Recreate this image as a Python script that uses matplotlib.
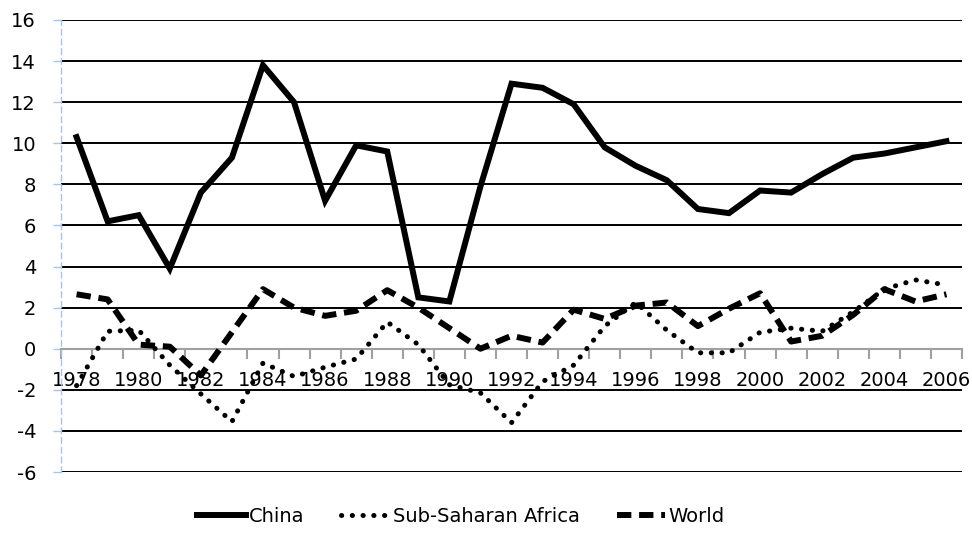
import numpy as np
import matplotlib
matplotlib.use("Agg")
import matplotlib.pyplot as plt

# data (annual growth, %)
years = list(range(1978, 2007))
china = [10.3, 6.2, 6.5, 3.9, 7.6, 9.3, 13.8, 12.0, 7.2, 9.9,
         9.6, 2.5, 2.3, 7.9, 12.9, 12.7, 11.9, 9.8, 8.9, 8.2,
         6.8, 6.6, 7.7, 7.6, 8.5, 9.3, 9.5, 9.8, 10.1]
ssa = [-1.8, 0.85, 0.9, -0.8, -2.2, -3.55, -0.7, -1.35, -0.9, -0.5,
       1.3, 0.2, -1.75, -2.15, -3.6, -1.6, -0.8, 1.1, 2.25, 0.9,
       -0.2, -0.2, 0.8, 1.0, 0.85, 1.8, 2.9, 3.35, 3.1]
world = [2.65, 2.4, 0.2, 0.1, -1.3, 0.8, 2.9, 2.0, 1.6, 1.85,
         2.85, 2.0, 1.0, 0.0, 0.63, 0.3, 1.9, 1.45, 2.1, 2.25,
         1.1, 1.95, 2.7, 0.35, 0.63, 1.65, 2.9, 2.3, 2.65]
y_ticks = list(range(-6, 17, 2))

plt.rcParams["font.family"] = ["DejaVu Sans"]
plt.rcParams["axes.unicode_minus"] = False

fig = plt.figure(figsize=(9.72, 5.39), dpi=100)
ax = fig.add_axes([0.0628, 0.1243, 0.9269, 0.8386])

x = np.arange(len(years))

# horizontal gridlines (0 is the grey category axis)
for v in y_ticks:
    if v != 0:
        ax.axhline(v, color="black", lw=1.4, zorder=1)

ax.plot(x, china, color="black", lw=4.3, solid_joinstyle="miter",
        label="China", zorder=3)
ax.plot(x, ssa, color="black", lw=3.6, linestyle=(0, (0.05, 2.1)),
        dash_capstyle="round", label="Sub-Saharan Africa", zorder=3)
ax.plot(x, world, color="black", lw=4.3, linestyle=(0, (2.4, 1.3)),
        label="World", zorder=3)

ax.set_xlim(-0.5, len(years) - 0.5)
ax.set_ylim(-6, 16)

# y axis: light blue dashed
for s in ["top", "right"]:
    ax.spines[s].set_visible(False)
ax.spines["left"].set_color("#a9c4ea")
ax.spines["left"].set_linestyle((0, (4, 3)))
ax.spines["left"].set_linewidth(1.0)
ax.set_yticks(y_ticks)
ax.tick_params(axis="y", colors="#a9c4ea", length=6, width=1.0,
               labelcolor="black", labelsize=14, pad=12)

# x axis at zero, grey with boundary tick marks
ax.spines["bottom"].set_position(("data", 0))
ax.spines["bottom"].set_color("#a0a0a0")
ax.spines["bottom"].set_linewidth(1.5)
ax.set_xticks(x[::2])
ax.set_xticklabels([str(y) for y in years[::2]])
ax.set_xticks(np.arange(-0.5, len(years), 1), minor=True)
ax.tick_params(axis="x", which="major", length=0, labelsize=14, pad=16)
ax.tick_params(axis="x", which="minor", length=7, width=1.5,
               color="#a0a0a0", direction="out")

leg = fig.legend(loc="lower center", bbox_to_anchor=(0.474, -0.008), ncol=3,
                 frameon=False, fontsize=14, handlelength=2.5,
                 handletextpad=0.15, columnspacing=1.9)

fig.savefig("out.png", dpi=100)
